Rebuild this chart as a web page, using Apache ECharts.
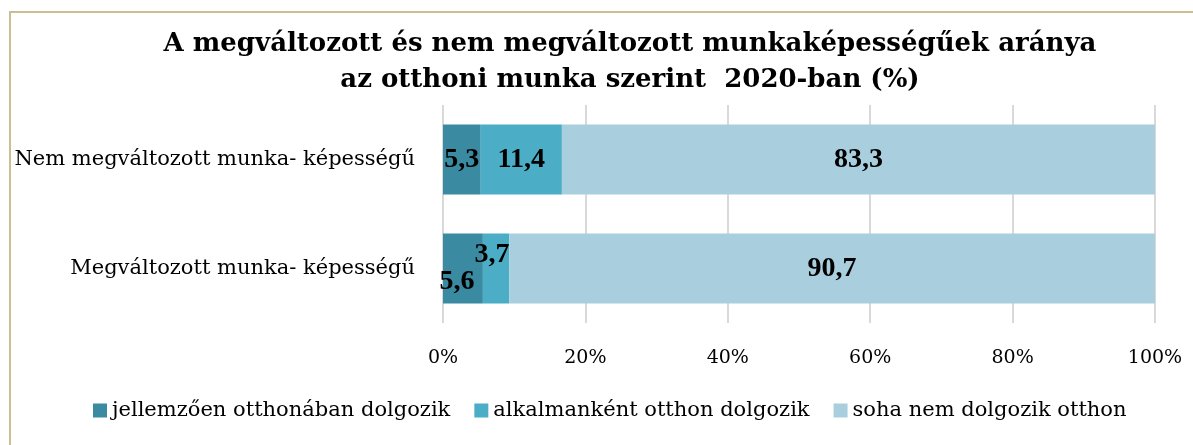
<!DOCTYPE html>
<html>
<head>
<meta charset="utf-8">
<script src="https://cdn.jsdelivr.net/npm/echarts@6/dist/echarts.min.js"></script>
<style>
  html, body { margin: 0; padding: 0; background: #fff; }
  #chart { width: 1193px; height: 445px; }
</style>
</head>
<body>
<div id="chart"></div>
<script>
const categories = ['Megváltozott munka- képességű', 'Nem megváltozott munka- képességű']
const seriesNames = ['jellemzően otthonában dolgozik', 'alkalmanként otthon dolgozik', 'soha nem dolgozik otthon']
const jellemzoen = [5.6, 5.3]
const alkalmankent = [3.7, 11.4]
const soha = [90.7, 83.3]
const xTicks = [0, 20, 40, 60, 80, 100]

const colors = ['#3a8aa1', '#4badc6', '#a9cfde']
const fontFamily = '"DejaVu Serif", "Liberation Serif", serif'

const chart = echarts.init(document.getElementById('chart'), null, { renderer: 'canvas' })

const fmt = p => String(p.value).replace('.', ',')

function labelCfg(extra) {
  return Object.assign({
    show: true,
    position: 'inside',
    formatter: fmt,
    color: '#000',
    fontFamily: '"Liberation Serif", serif',
    fontWeight: 'bold',
    fontSize: 28
  }, extra || {})
}

chart.setOption({
  animation: false,
  color: colors,
  title: {
    text: 'A megváltozott és nem megváltozott munkaképességűek aránya\naz otthoni munka szerint  2020-ban (%)',
    left: 625,
    textAlign: 'center',
    top: 21,
    textStyle: {
      fontFamily,
      fontWeight: 'bold',
      fontSize: 26,
      lineHeight: 36,
      color: '#000'
    }
  },
  graphic: [
    { type: 'line', shape: { x1: 10, y1: 12, x2: 1193, y2: 12 }, style: { stroke: '#c9bf90', lineWidth: 2 } },
    { type: 'line', shape: { x1: 10, y1: 11, x2: 10, y2: 445 }, style: { stroke: '#c9bf90', lineWidth: 2 } }
  ],
  legend: {
    orient: 'horizontal',
    bottom: 19,
    left: 88,
    itemWidth: 14,
    itemHeight: 14,
    itemGap: 24,
    icon: 'rect',
    textStyle: { fontFamily, fontSize: 21, color: '#000', padding: [0, 0, 0, 0] },
    data: seriesNames
  },
  grid: {
    left: 443,
    right: 38,
    top: 105,
    bottom: 122,
    containLabel: false
  },
  xAxis: {
    type: 'value',
    min: 0,
    max: 100,
    interval: 20,
    axisLine: { show: false },
    axisTick: { show: false },
    splitLine: { show: true, lineStyle: { color: '#d9d9d9', width: 2 } },
    axisLabel: {
      margin: 26,
      formatter: v => xTicks.includes(v) ? v + '%' : '',
      fontFamily,
      fontSize: 19,
      color: '#000'
    }
  },
  yAxis: {
    type: 'category',
    data: categories,
    axisLine: { show: false },
    axisTick: { show: false },
    axisLabel: {
      margin: 28,
      fontFamily,
      fontSize: 21,
      color: '#000'
    }
  },
  series: [
    {
      name: seriesNames[0],
      type: 'bar',
      stack: 'total',
      barWidth: 70,
      label: labelCfg(),
      data: jellemzoen.map((v, i) => i === 0 ? { value: v, label: { offset: [-6, 13] } } : v)
    },
    {
      name: seriesNames[1],
      type: 'bar',
      stack: 'total',
      barWidth: 70,
      label: labelCfg(),
      data: alkalmankent.map((v, i) => i === 0 ? { value: v, label: { offset: [-4, -14] } } : v)
    },
    {
      name: seriesNames[2],
      type: 'bar',
      stack: 'total',
      barWidth: 70,
      label: labelCfg(),
      data: soha
    }
  ]
})
</script>
</body>
</html>
